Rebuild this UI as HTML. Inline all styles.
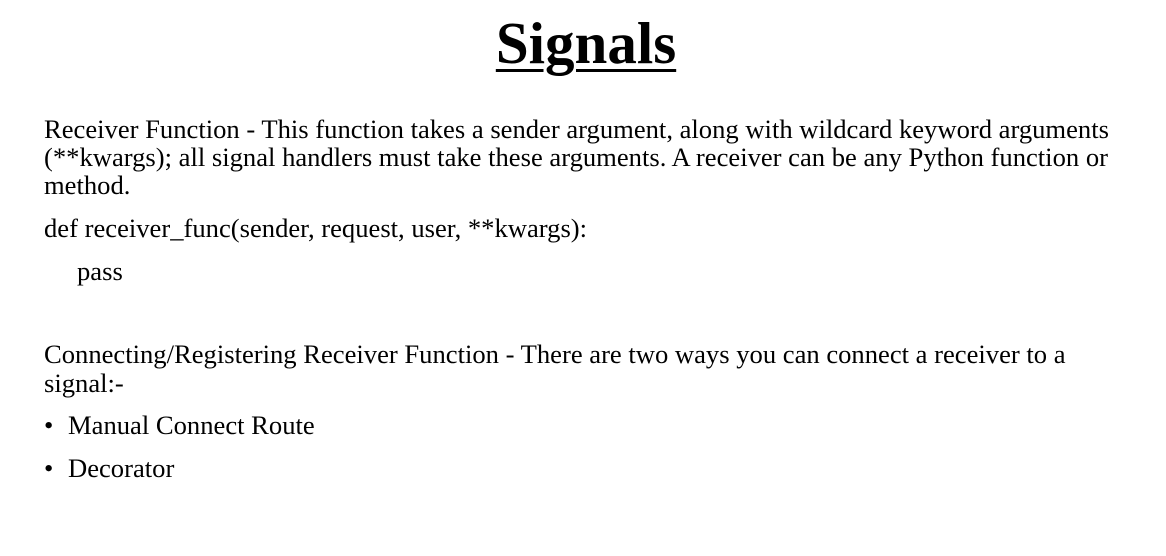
<!DOCTYPE html>
<html><head><meta charset="utf-8"><style>
html,body{margin:0;padding:0;background:#fff;}
body{width:1166px;height:556px;position:relative;overflow:hidden;font-family:"Liberation Serif","Times New Roman",serif;color:#000;}
.t{position:absolute;left:0;width:1166px;text-align:center;padding-left:6px;box-sizing:border-box;top:8px;font-size:59px;font-weight:bold;text-decoration:underline;text-decoration-thickness:3px;text-underline-offset:6px;line-height:70px;}
.l{position:absolute;font-size:26.6px;line-height:28px;white-space:nowrap;}
</style></head><body>
<div class="t">Signals</div>
<div class="l" style="left:44px;top:115px">Receiver Function - This function takes a sender argument, along with wildcard keyword arguments</div>
<div class="l" style="left:44px;top:143px">(**kwargs); all signal handlers must take these arguments. A receiver can be any Python function or</div>
<div class="l" style="left:44px;top:171px">method.</div>
<div class="l" style="left:44px;top:214px">def receiver_func(sender, request, user, **kwargs):</div>
<div class="l" style="left:77px;top:257px">pass</div>
<div class="l" style="left:44px;top:340px">Connecting/Registering Receiver Function - There are two ways you can connect a receiver to a</div>
<div class="l" style="left:44px;top:369px">signal:-</div>
<div class="l" style="left:44px;top:411px">•</div>
<div class="l" style="left:68px;top:411px">Manual Connect Route</div>
<div class="l" style="left:44px;top:454px">•</div>
<div class="l" style="left:68px;top:454px">Decorator</div>
</body></html>
